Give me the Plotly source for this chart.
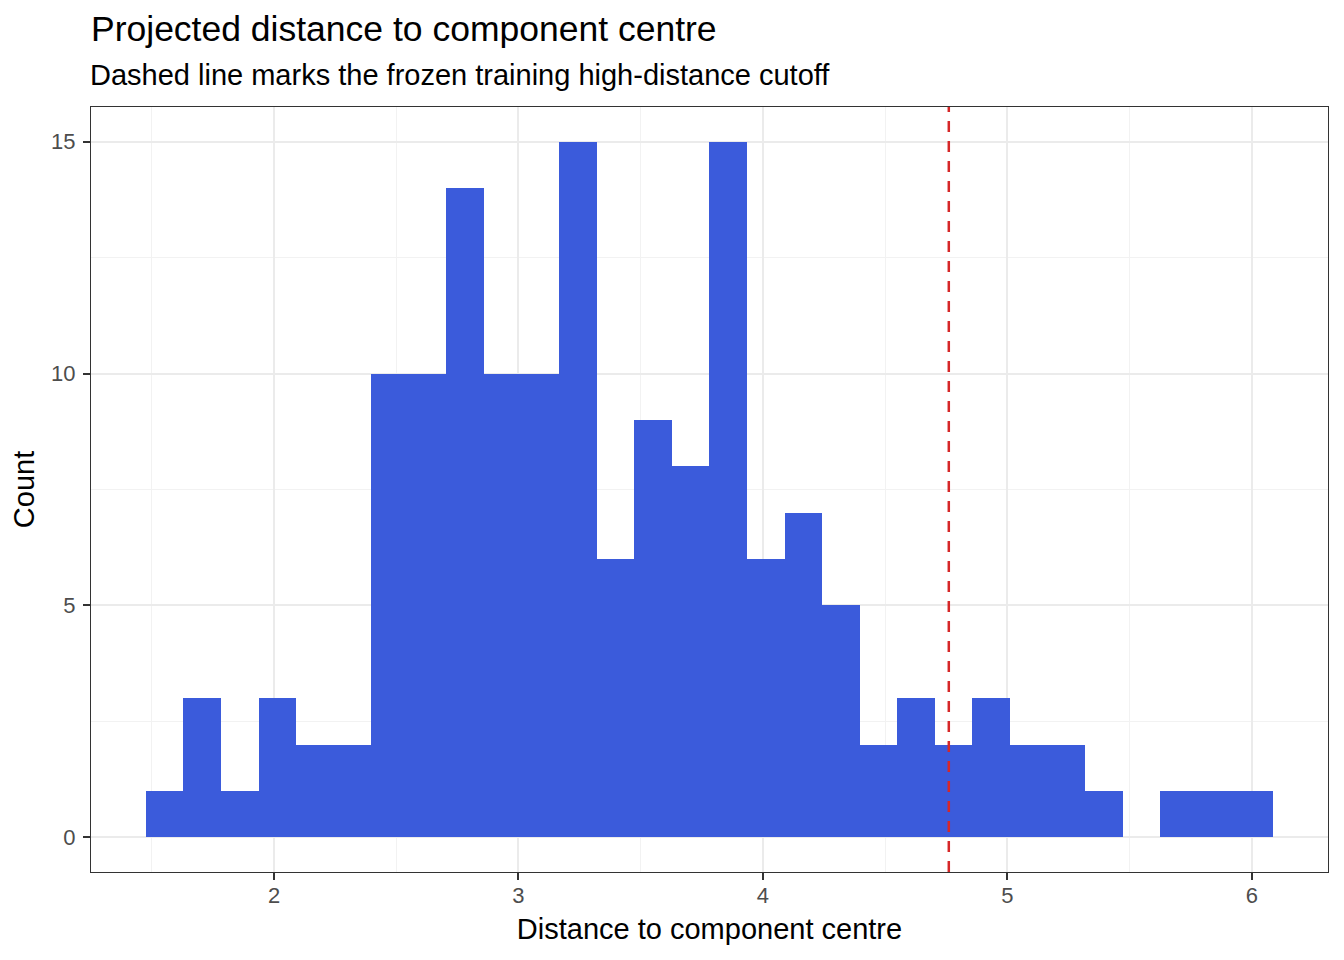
import plotly.graph_objects as go

# histogram counts (30 bins)
counts = [1, 3, 1, 3, 2, 2, 10, 10, 14, 10, 10, 15, 6, 9, 8,
          15, 6, 7, 5, 2, 3, 2, 3, 2, 2, 1, 0, 1, 1, 1]
bin_start = 1.4755
bin_width = 0.1537
cutoff = 4.76

x_ticks = [2, 3, 4, 5, 6]
y_ticks = [0, 5, 10, 15]

centres = [bin_start + (i + 0.5) * bin_width for i in range(len(counts))]

# page body has an 8px default margin, so the figure is 8px smaller
W, H = 1336, 952
ML, MR, MT, MB = 83, 16, 99, 88

fig = go.Figure()
fig.add_trace(go.Bar(
    x=centres, y=counts, width=bin_width,
    marker=dict(color="#3B5BDB", line=dict(width=0)),
    hoverinfo="x+y",
))

fig.add_shape(type="line", xref="x", yref="paper", x0=cutoff, x1=cutoff, y0=0, y1=1,
              line=dict(color="#D62728", width=2.5, dash="11px,9px"))

axis_common = dict(
    showline=True, linecolor="#333333", linewidth=1.3, mirror=True,
    ticks="outside", ticklen=7, tickwidth=2, tickcolor="#333333",
    tickfont=dict(family="Liberation Sans", size=22, color="#4D4D4D"),
    showgrid=True, gridcolor="#EBEBEB", gridwidth=2,
    zeroline=False,
)

fig.update_xaxes(
    range=[1.2515, 6.311], tickvals=x_ticks, ticklabelstandoff=-4,
    minor=dict(dtick=0.5, tick0=1.5, showgrid=True, gridcolor="#F2F2F2", gridwidth=1, ticks=""),
    title=dict(text="Distance to component centre", standoff=12,
               font=dict(family="Liberation Sans", size=29, color="#000000")),
    **axis_common,
)
fig.update_yaxes(
    range=[-0.75, 15.75], tickvals=y_ticks, ticklabelstandoff=3,
    minor=dict(dtick=2.5, tick0=2.5, showgrid=True, gridcolor="#F2F2F2", gridwidth=1, ticks=""),
    title=dict(text="Count", standoff=12,
               font=dict(family="Liberation Sans", size=29, color="#000000")),
    **axis_common,
)

fig.update_layout(
    width=W, height=H,
    paper_bgcolor="white", plot_bgcolor="white",
    margin=dict(l=ML, r=MR, t=MT, b=MB),
    showlegend=False,
    bargap=0,
    title=dict(text="Projected distance to component centre",
               x=ML / W, xanchor="left", xref="container",
               y=1 - 21 / H, yanchor="middle", yref="container",
               font=dict(family="Liberation Sans", size=35.5, color="#000000")),
    annotations=[dict(
        text="Dashed line marks the frozen training high-distance cutoff",
        xref="paper", yref="paper", x=0, y=1 + 32 / (H - MT - MB), xanchor="left", yanchor="middle",
        xshift=-3, showarrow=False,
        font=dict(family="Liberation Sans", size=29, color="#000000"),
    )],
)

fig.write_html("out.html")
